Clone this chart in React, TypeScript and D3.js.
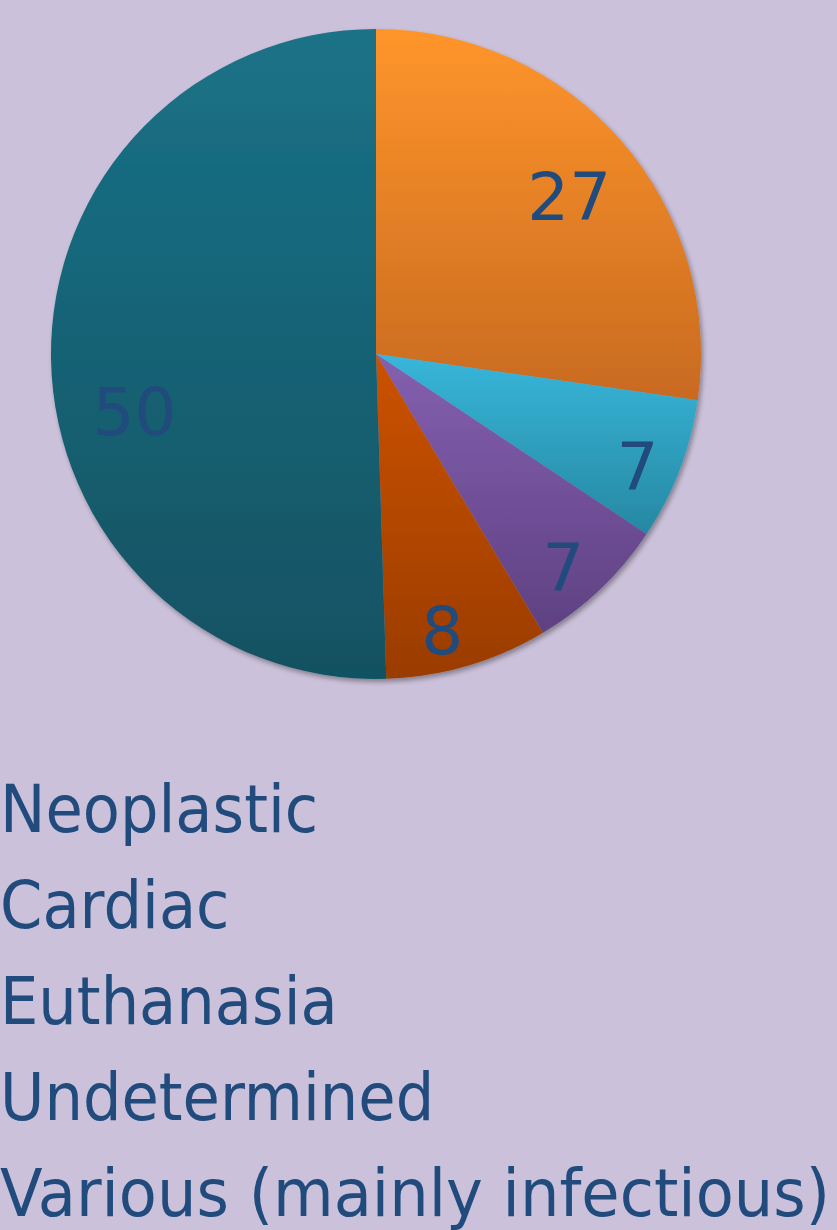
import { useMemo } from 'react';
import * as d3 from 'd3';

// slices in drawing order, clockwise from 12 o'clock
const categories = ['Neoplastic', 'Cardiac', 'Euthanasia', 'Undetermined', 'Various (mainly infectious)'];
const values = [27, 7, 7, 8, 50];
const colorsTop = ['#FF952B', '#38B6DA', '#8460B0', '#CC5200', '#1B7287'];
const colorsBottom = ['#C86A20', '#2688A2', '#5E4182', '#9A3C00', '#115262'];

const WIDTH = 837;
const HEIGHT = 1230;
const CX = 376;
const CY = 354;
const R = 325;
const LABEL_COLOR = '#204B7C';
const FONT = '"DejaVu Sans", Verdana, sans-serif';

// legend layout
const LEGEND_TOP = 832;
const LEGEND_STEP = 96;
const LEGEND_SQUEEZE = 0.92;

export default function App() {
  const arcs = useMemo(
    () => d3.pie<number>().sort(null).value((d) => d)(values),
    []
  );

  const arc = d3.arc<d3.PieArcDatum<number>>().innerRadius(0).outerRadius(R);

  // best-fit style: big slices labelled further in, small ones near the rim,
  // pushed a little clockwise along the slice
  const labelPos = (d: d3.PieArcDatum<number>) => {
    const lr = d.value > 20 ? R * 0.765 : R * 0.877;
    const t = d.value >= 50 ? 0.43 : d.value > 20 ? 0.52 : 0.6;
    const a = d.startAngle + (d.endAngle - d.startAngle) * t;
    return [lr * Math.sin(a), -lr * Math.cos(a)];
  };

  const legendY = d3
    .scalePoint<string>()
    .domain(categories)
    .range([LEGEND_TOP, LEGEND_TOP + LEGEND_STEP * (categories.length - 1)]);

  return (
    <svg
      width={WIDTH}
      height={HEIGHT}
      viewBox={`0 0 ${WIDTH} ${HEIGHT}`}
      style={{ position: 'absolute', left: 0, top: 0, display: 'block' }}
    >
      <defs>
        {values.map((_, i) => (
          <linearGradient key={i} id={`grad-${i}`} x1="0" y1="0" x2="0" y2="1">
            <stop offset="0%" stopColor={colorsTop[i]} />
            <stop offset="100%" stopColor={colorsBottom[i]} />
          </linearGradient>
        ))}
        <filter id="shadow" x="-10%" y="-10%" width="120%" height="120%">
          <feGaussianBlur in="SourceAlpha" stdDeviation="2.5" />
          <feOffset dx="2" dy="3" result="blur" />
          <feComponentTransfer>
            <feFuncA type="linear" slope="0.35" />
          </feComponentTransfer>
          <feMerge>
            <feMergeNode />
            <feMergeNode in="SourceGraphic" />
          </feMerge>
        </filter>
      </defs>

      <rect width={WIDTH} height={HEIGHT} fill="#CBC1DA" />

      <g transform={`translate(${CX},${CY})`} filter="url(#shadow)">
        {arcs.map((d, i) => (
          <path key={i} d={arc(d) ?? ''} fill={`url(#grad-${i})`} />
        ))}
      </g>

      <g transform={`translate(${CX},${CY})`}>
        {arcs.map((d, i) => {
          const [x, y] = labelPos(d);
          return (
            <text
              key={i}
              x={x}
              y={y}
              textAnchor="middle"
              dominantBaseline="central"
              fontFamily={FONT}
              fontSize={66}
              fill={LABEL_COLOR}
            >
              {d.value}
            </text>
          );
        })}
      </g>

      <g>
        {categories.map((c, i) =>
          i === categories.length - 1 ? (
            <text
              key={c}
              x={0}
              y={legendY(c)}
              fontFamily={FONT}
              fontSize={66}
              fill={LABEL_COLOR}
              textLength={830}
              lengthAdjust="spacingAndGlyphs"
            >
              {c}
            </text>
          ) : (
            <text
              key={c}
              transform={`translate(0,${legendY(c)}) scale(${LEGEND_SQUEEZE},1)`}
              fontFamily={FONT}
              fontSize={66}
              fill={LABEL_COLOR}
            >
              {c}
            </text>
          )
        )}
      </g>
    </svg>
  );
}
